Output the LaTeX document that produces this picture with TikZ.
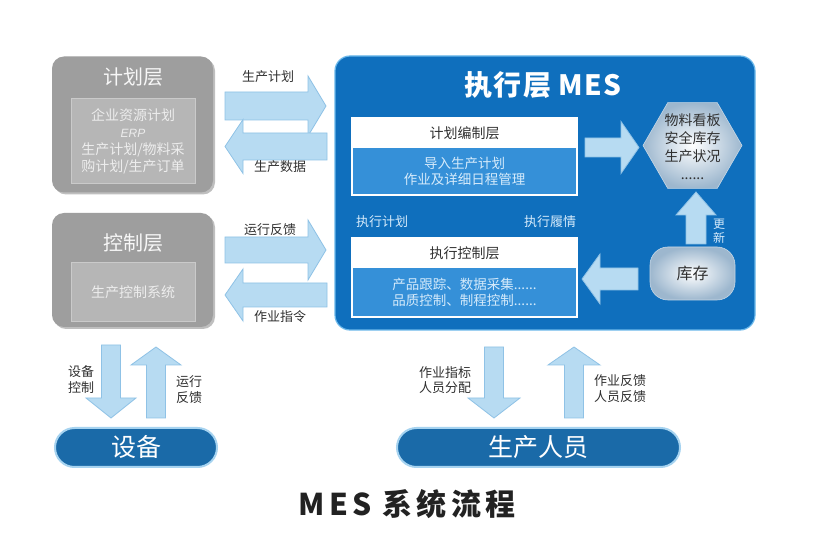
\documentclass[tikz,border=0pt]{standalone}
\usepackage{fontspec}
\setmainfont{Noto Sans CJK SC}
\newfontfamily\latinit{Liberation Sans}
\newfontfamily\titlefont{Noto Sans CJK SC}[LetterSpace=14]
\newfontfamily\mesfont{Noto Sans CJK SC}[LetterSpace=5]
\usetikzlibrary{calc,shapes.geometric,shadows}

\definecolor{grayout}{HTML}{9E9E9E}
\definecolor{grayinn}{HTML}{B6B6B6}
\definecolor{grayedge}{HTML}{CACACA}
\definecolor{graytext}{HTML}{EDEDED}
\definecolor{graytitle}{HTML}{F7F7F7}
\definecolor{mesblue}{HTML}{0F6FBD}
\definecolor{mesedge}{HTML}{6BB8EA}
\definecolor{contentblue}{HTML}{3590D8}
\definecolor{contenttext}{HTML}{D6EBFB}
\definecolor{arrowfill}{HTML}{B7DBF2}
\definecolor{arrowedge}{HTML}{8FC2E6}
\definecolor{pillblue}{HTML}{1A6AA8}
\definecolor{pillglow}{HTML}{A6D3F0}
\definecolor{hexout}{HTML}{9DB7CE}
\definecolor{hexedge}{HTML}{C8D8E6}
\definecolor{darktext}{HTML}{303030}
\definecolor{titleblack}{HTML}{222222}

% block arrow: from, to, shaft half width, head half width, head length
\newcommand\BArrow[5]{%
  \path[blockarrow] ($(#1)!#3!90:(#2)$) -- ($(#2)!#5!(#1)!#3!-90:(#1)$)
    -- ($(#2)!#5!(#1)!#4!-90:(#1)$) -- (#2) -- ($(#2)!#5!(#1)!#4!90:(#1)$)
    -- ($(#2)!#5!(#1)!#3!90:(#1)$) -- ($(#1)!#3!-90:(#2)$) -- cycle;}

\begin{document}
\begin{tikzpicture}[x=1pt,y=-1pt,
  every node/.style={inner sep=0pt,outer sep=0pt},
  graybox/.style={fill=grayout,rounded corners=12pt,minimum width=161pt,
    drop shadow={shadow xshift=2pt,shadow yshift=-2pt,opacity=.25,fill=black}},
  grayin/.style={fill=grayinn,draw=grayedge,line width=1pt,minimum width=124pt,
    text=graytext,align=center,font=\fontsize{14}{17}\selectfont},
  graytitle/.style={text=graytitle,font=\fontsize{20}{20}\selectfont},
  mesbox/.style={fill=mesblue,draw=mesedge,line width=1.2pt,rounded corners=15pt,
    minimum width=420pt,minimum height=274pt},
  mestitle/.style={text=white,font=\mesfont\bfseries\fontsize{28}{28}\selectfont},
  subhead/.style={fill=white,minimum width=225pt,minimum height=30pt,text=darktext,
    font=\fontsize{14}{14}\selectfont},
  subbody/.style={fill=contentblue,minimum width=225pt,text=contenttext,align=center,
    font=\fontsize{13.5}{15.5}\selectfont},
  mestext/.style={text=contenttext,font=\fontsize{13}{13}\selectfont},
  hexa/.style={regular polygon,regular polygon sides=6,minimum size=99pt,
    inner color=white,outer color=hexout,draw=hexedge,line width=0.6pt},
  hextxt/.style={text=darktext,align=center,font=\fontsize{14}{18}\selectfont},
  stock/.style={rounded corners=18pt,minimum width=85pt,minimum height=53pt,
    inner color=white,outer color=hexout,draw=hexedge,line width=0.6pt,
    text=darktext,font=\fontsize{16}{16}\selectfont},
  updtxt/.style={text=contenttext,align=center,font=\fontsize{12}{14}\selectfont},
  blockarrow/.style={fill=arrowfill,draw=arrowedge,line width=0.8pt,line join=miter},
  lbl/.style={text=darktext,align=center,font=\fontsize{13}{15.5}\selectfont},
  pill/.style={rounded corners=19.5pt,minimum height=39pt,fill=pillblue,draw=pillglow,
    line width=2pt,text=white,font=\fontsize{25}{25}\selectfont},
]
\fill[white] (0,0) rectangle (815,545);
\useasboundingbox (0,0) rectangle (815,545);

% ---- left gray layers
\node[graybox,minimum height=136pt] (plan) at (132.5,124.5) {};
\node[graytitle] (plantitle) at (133,77) {计划层};
\node[grayin,minimum height=85pt] (planin) at (133,141)
  {企业资源计划\\{\latinit\itshape\fontsize{12}{17}\selectfont ERP}\\生产计划/物料采\\购计划/生产订单};

\node[graybox,minimum height=114pt] (ctrl) at (132.5,270) {};
\node[graytitle] (ctrltitle) at (133,243) {控制层};
\node[grayin,minimum height=59pt] (ctrlin) at (133,292.5) {生产控制系统};

% ---- MES box
\node[mesbox] (mes) at (545,193) {};
\node[mestitle] (mestitle) at (543,85.5) {执行层 MES};

\node[subhead] (ph) at (464.5,133) {计划编制层};
\node[subbody,minimum height=47pt] (pc) at (464.5,171.5) {导入生产计划\\作业及详细日程管理};
\draw[white,line width=1.5pt] (ph.north west) rectangle (pc.south east);

\node[subhead] (ch) at (464.5,253) {执行控制层};
\node[subbody,minimum height=49pt] (cc) at (464.5,292.5) {产品跟踪、数据采集......\\品质控制、制程控制......};
\draw[white,line width=1.5pt] (ch.north west) rectangle (cc.south east);

\node[mestext] (ep) at (382,222) {执行计划};
\node[mestext] (es) at (550,222) {执行履情};

\node[hexa] (hex) at (692.5,145.5) {};
\node[hextxt] (hext) at (692.5,147) {物料看板\\安全库存\\生产状况\\......};

\node[stock] (stock) at (692.5,273.5) {库存};

% inner arrows
\coordinate (a5s) at (585,147.5); \coordinate (a5e) at (639,147.5);
\BArrow{a5s}{a5e}{9.5pt}{26pt}{18pt}
\coordinate (a6s) at (638,279); \coordinate (a6e) at (582,279);
\BArrow{a6s}{a6e}{11pt}{25pt}{18pt}
\coordinate (a7s) at (696,244); \coordinate (a7e) at (696,192);
\BArrow{a7s}{a7e}{10pt}{20pt}{23pt}
\node[updtxt] (upd) at (719,231) {更\\新};

% ---- arrows between gray layers and MES
\coordinate (a1s) at (225,106); \coordinate (a1e) at (326,106);
\BArrow{a1s}{a1e}{14pt}{30pt}{18pt}
\coordinate (a2s) at (327,146.5); \coordinate (a2e) at (225,146.5);
\BArrow{a2s}{a2e}{13.5pt}{27pt}{18pt}
\coordinate (a3s) at (225,250); \coordinate (a3e) at (326,250);
\BArrow{a3s}{a3e}{13pt}{30pt}{18pt}
\coordinate (a4s) at (327,295); \coordinate (a4e) at (225,295);
\BArrow{a4s}{a4e}{12pt}{26pt}{18pt}

\node[lbl] (l1) at (268,77) {生产计划};
\node[lbl] (l2) at (280,167) {生产数据};
\node[lbl] (l3) at (270,230) {运行反馈};
\node[lbl] (l4) at (280,317) {作业指令};

% ---- bottom arrows
\coordinate (b1s) at (111,345); \coordinate (b1e) at (111,418);
\BArrow{b1s}{b1e}{9.5pt}{25pt}{20pt}
\coordinate (b2s) at (156,418); \coordinate (b2e) at (156,347);
\BArrow{b2s}{b2e}{9.5pt}{25pt}{18pt}
\coordinate (b3s) at (494,347); \coordinate (b3e) at (494,418);
\BArrow{b3s}{b3e}{9.5pt}{26pt}{20pt}
\coordinate (b4s) at (574,418); \coordinate (b4e) at (574,347);
\BArrow{b4s}{b4e}{9.5pt}{26pt}{18pt}

\node[lbl] (l5) at (81,379.5) {设备\\控制};
\node[lbl] (l6) at (189,389.5) {运行\\反馈};
\node[lbl] (l7) at (445,380) {作业指标\\人员分配};
\node[lbl] (l8) at (620,388.5) {作业反馈\\人员反馈};

% ---- pills
\node[pill,minimum width=162pt] (dev) at (136,447.5) {设备};
\node[pill,minimum width=283pt] (staff) at (538.5,447.5) {生产人员};

% ---- caption
\node[text=titleblack,font=\titlefont\bfseries\fontsize{30}{30}\selectfont] (title) at (407,504) {MES 系统流程};
\end{tikzpicture}
\end{document}
